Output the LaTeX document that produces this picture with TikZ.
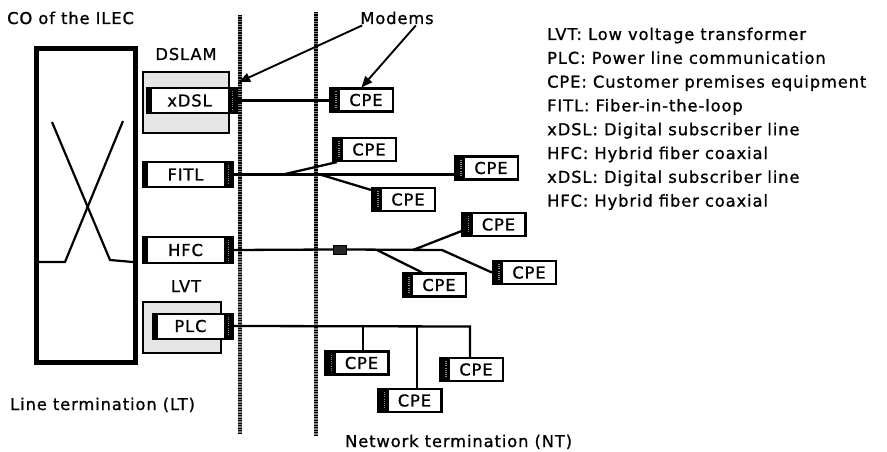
\documentclass[tikz,border=0pt]{standalone}
\usepackage{fontspec}
\setmainfont{DejaVu Sans}[LetterSpace=5.5,FakeBold=1]
\usetikzlibrary{arrows.meta}
\begin{document}
\begin{tikzpicture}[x=1pt,y=-1pt,
  font=\fontsize{16.3}{20}\selectfont,
  conn/.style={line width=2.3pt, black},
  ltbox/.style={draw, line width=2pt, minimum width=90pt, minimum height=25pt,
    inner sep=0pt, fill=white,
    path picture={
      \fill[black] (path picture bounding box.north west) rectangle ([xshift=5pt]path picture bounding box.south west);
      \fill[black] ([xshift=-9pt]path picture bounding box.north east) rectangle (path picture bounding box.south east);
      \draw[black!45, line width=1.2pt, dash pattern=on 1pt off 1.2pt]
        ([xshift=-4.5pt,yshift=-3pt]path picture bounding box.north east) --
        ([xshift=-4.5pt,yshift=3pt]path picture bounding box.south east);
    }},
  cpe/.style={draw, line width=2.2pt, minimum width=63pt, minimum height=23pt,
    inner sep=0pt, fill=white,
    path picture={
      \fill[black] (path picture bounding box.north west) rectangle ([xshift=10pt]path picture bounding box.south west);
      \draw[black!45, line width=1.2pt, dash pattern=on 1pt off 1.2pt]
        ([xshift=6pt,yshift=-3pt]path picture bounding box.north west) --
        ([xshift=6pt,yshift=3pt]path picture bounding box.south west);
    }},
  cont/.style={draw, line width=1.6pt, fill=black!10, inner sep=0pt},
  divider/.style={line width=3.4pt, black!50},
  dividerdots/.style={line width=3.4pt, black, dash pattern=on 1.3pt off 1.2pt},
  arr/.style={line width=1.9pt, -{Triangle[length=11pt,width=9pt]}},
  lbl/.style={inner sep=0pt}
]
\useasboundingbox (0,0) rectangle (887,452);

% dividers
\draw[divider] (240,15) -- (240,433);
\draw[dividerdots] (240,15) -- (240,433);
\draw[divider] (316,12) -- (316,435);
\draw[dividerdots] (316,12) -- (316,435);

% CO box
\node[draw, line width=4.5pt, minimum width=99pt, minimum height=314pt, inner sep=0pt] (co) at (86,205.5) {};
\draw[line width=2.2pt] (52,122) -- (110,260) -- (133,262);
\draw[line width=2.2pt] (123,121) -- (65,262) -- (39,262);

% labels
\node[lbl, anchor=base west] (colbl) at (7,24) {CO of the ILEC};
\node[lbl, anchor=base] (modems) at (397,24) {Modems};
\node[lbl, anchor=base] (dslamlbl) at (186,60) {DSLAM};
\node[lbl, anchor=base] (lvtlbl) at (186,292) {LVT};
\node[lbl, anchor=base west] (ltlbl) at (10,410) {Line termination (LT)};
\node[lbl, anchor=base west] (ntlbl) at (345,447) {Network termination (NT)};

% containers
\node[cont, minimum width=86pt, minimum height=61pt] (dslam) at (186,102.5) {};
\node[cont, minimum width=78pt, minimum height=51pt] (lvt) at (182,327.5) {};

% LT boxes
\node[ltbox] (xdsl) at (192,100.5) {xDSL\hspace*{5pt}};
\node[ltbox] (fitl) at (188,174.5) {FITL\hspace*{5pt}};
\node[ltbox, minimum height=26pt] (hfc) at (188,250) {HFC\hspace*{5pt}};
\node[ltbox, minimum width=80pt] (plc) at (193,326) {PLC\hspace*{5pt}};

% CPEs
\node[cpe] (c1) at (361.5,100) {\hspace*{9pt}CPE};
\node[cpe] (c2) at (364.5,149.5) {\hspace*{9pt}CPE};
\node[cpe] (c3) at (486.5,168) {\hspace*{9pt}CPE};
\node[cpe] (c4) at (403.5,199.5) {\hspace*{9pt}CPE};
\node[cpe] (c5) at (494,224.5) {\hspace*{9pt}CPE};
\node[cpe] (c6) at (434.5,285) {\hspace*{9pt}CPE};
\node[cpe] (c7) at (524.5,272.5) {\hspace*{9pt}CPE};
\node[cpe] (c8) at (357,363) {\hspace*{9pt}CPE};
\node[cpe] (c9) at (410,400.5) {\hspace*{9pt}CPE};
\node[cpe] (c10) at (471.5,369.5) {\hspace*{9pt}CPE};

% HFC amplifier
\node[draw, fill=black!85, line width=1pt, minimum width=13pt, minimum height=9pt, inner sep=0pt] (amp) at (340,249.5) {};

% connectors
\draw[conn] (xdsl.east) -- (xdsl.east -| c1.west);
\draw[conn] (fitl.east) -- (fitl.east -| c3.west);
\coordinate (f1) at (283,174.5);
\coordinate (f2) at (320,174.5);
\draw[conn] (f1) -- ([xshift=5pt]c2.south west);
\draw[conn] (f2) -- ([yshift=-3pt]c4.north west);

\coordinate (h1) at (377,250);
\coordinate (h2) at (413,250);
\coordinate (h3) at (442,250);
\draw[conn] (hfc.east) -- (amp.west);
\draw[conn] (amp.east) -- (h3) -- (c7.west);
\draw[conn] (h1) -- ([xshift=20pt]c6.north west);
\draw[conn] (h2) -- ([yshift=6pt]c5.south west);

\coordinate (p1) at (363,326.5);
\coordinate (p2) at (417,326.5);
\coordinate (p3) at (470,326.5);
\draw[conn] (plc.east) -- (p3) -- (p3 |- c10.north);
\draw[conn] (p1) -- (p1 |- c8.north);
\draw[conn] (p2) -- (p2 |- c9.north);

% modem arrows
\coordinate (m1) at (239,82);
\draw[arr] ([xshift=2pt,yshift=-1pt]modems.south west) -- (m1);
\draw[arr] ([xshift=-18pt,yshift=-1pt]modems.south east) -- (c1.north);

% legend
\foreach \t [count=\i from 0] in {LVT: Low voltage transformer,PLC: Power line communication,CPE: Customer premises equipment,FITL: Fiber-in-the-loop,xDSL: Digital subscriber line,HFC: Hybrid fiber coaxial,xDSL: Digital subscriber line,HFC: Hybrid fiber coaxial}
  \node[lbl, anchor=base west] (lg\i) at (547,40+23.8*\i) {\t};
\end{tikzpicture}
\end{document}
